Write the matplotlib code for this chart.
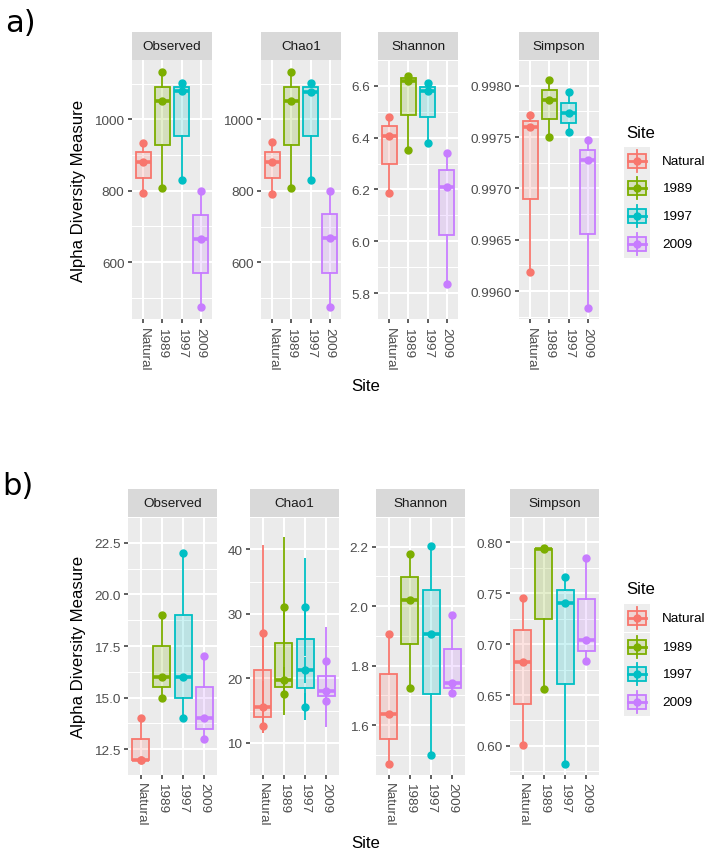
import matplotlib.pyplot as plt
import numpy as np
from matplotlib.colors import to_rgba
from matplotlib.patches import Rectangle

plt.rcParams['font.family'] = ['Liberation Sans', 'DejaVu Sans']

W, H = 709, 853

sites = ["Natural", "1989", "1997", "2009"]
site_colors = ["#F8766D", "#7CAE00", "#00BFC4", "#C77CFF"]
measures = ["Observed", "Chao1", "Shannon", "Simpson"]

# a) three samples per site
a_observed = [[793, 880, 935], [807, 1050, 1133], [830, 1078, 1102], [474, 666, 800]]
a_chao1 = [[792, 882, 937], [808, 1050, 1133], [831, 1077, 1103], [475, 668, 801]]
a_shannon = [[6.187, 6.407, 6.481], [6.352, 6.620, 6.640], [6.381, 6.582, 6.612], [5.835, 6.210, 6.340]]
a_simpson = [[0.99619, 0.99760, 0.99771], [0.99750, 0.99786, 0.99806],
             [0.99755, 0.99773, 0.99794], [0.99584, 0.99728, 0.99747]]

# b) three samples per site, Chao1 with its standard error
b_observed = [[12, 12, 14], [15, 16, 19], [14, 16, 22], [13, 14, 17]]
b_chao1 = [[12.55, 15.55, 27.0], [17.5, 19.8, 31.0], [15.6, 21.25, 31.0], [16.5, 18.0, 22.6]]
b_chao1_se = [[1.05, 4.05, 13.64], [3.2, 2.0, 10.83], [2.14, 2.0, 7.6], [4.06, 2.0, 5.4]]
b_shannon = [[1.469, 1.637, 1.908], [1.726, 2.020, 2.177], [1.500, 1.908, 2.203], [1.707, 1.743, 1.970]]
b_simpson = [[0.601, 0.682, 0.745], [0.656, 0.7935, 0.7945], [0.582, 0.740, 0.766], [0.683, 0.7045, 0.7845]]

# y tick labels per panel
a_ticks = [[600, 800, 1000], [600, 800, 1000], [5.8, 6.0, 6.2, 6.4, 6.6],
           [0.9960, 0.9965, 0.9970, 0.9975, 0.9980]]
a_fmts = ["{:.0f}", "{:.0f}", "{:.1f}", "{:.4f}"]
b_ticks = [[12.5, 15.0, 17.5, 20.0, 22.5], [10, 20, 30, 40], [1.6, 1.8, 2.0, 2.2],
           [0.60, 0.65, 0.70, 0.75, 0.80]]
b_fmts = ["{:.1f}", "{:.0f}", "{:.1f}", "{:.2f}"]


def px_axes(fig, x0, y0, x1, y1):
    return fig.add_axes([x0 / W, 1 - y1 / H, (x1 - x0) / W, (y1 - y0) / H])


def draw_panel(ax, values, ticks, fmt, title, se=None):
    x = np.arange(1, len(sites) + 1)
    ax.set_facecolor("#EBEBEB")
    for s in ax.spines.values():
        s.set_visible(False)

    vals = np.array(values, dtype=float)
    lo, hi = vals.min(), vals.max()
    if se is not None:
        err = np.array(se, dtype=float)
        lo, hi = min(lo, (vals - err).min()), max(hi, (vals + err).max())
    pad = (hi - lo) * 0.05
    ax.set_ylim(lo - pad, hi + pad)
    ax.set_xlim(0.4, len(sites) + 0.6)

    for i in range(len(sites)):
        c = site_colors[i]
        if se is not None:
            ax.vlines([x[i]] * 3, vals[i] - err[i], vals[i] + err[i], color=c, lw=1.3, zorder=2)
        ax.plot([x[i]] * len(vals[i]), vals[i], 'o', color=c, ms=5, zorder=3)
        ax.boxplot([vals[i]], positions=[x[i]], widths=0.8, whis=(0, 100), patch_artist=True,
                   showfliers=False, showcaps=False, manage_ticks=False, zorder=4,
                   boxprops=dict(facecolor=to_rgba(c, 0.2), edgecolor=c, lw=1.3),
                   whiskerprops=dict(color=c, lw=1.3),
                   medianprops=dict(color=c, lw=2.6))

    step = ticks[1] - ticks[0]
    minors = np.arange(ticks[0] - step / 2, ticks[-1] + step, step)
    ax.set_yticks(ticks)
    ax.set_yticklabels([fmt.format(t) for t in ticks])
    ax.set_yticks(minors, minor=True)
    ax.set_xticks(x)
    ax.set_xticklabels(sites, rotation=-90, va='top', ha='center')
    ax.grid(which='major', color='white', lw=1.5)
    ax.grid(which='minor', axis='y', color='white', lw=0.75)
    ax.set_axisbelow(True)
    ax.tick_params(which='major', length=3, width=1.1, color='#333333', labelcolor='#4D4D4D',
                   labelsize=9.7, pad=2.4)
    ax.tick_params(which='minor', length=0)

    # facet strip, 28 px tall
    strip_h = 28 / (ax.get_position().height * H)
    ax.add_patch(Rectangle((0, 1), 1, strip_h, transform=ax.transAxes, clip_on=False,
                           color='#D9D9D9', lw=0))
    ax.text(0.5, 1 + strip_h / 2, title, transform=ax.transAxes,
            ha='center', va='center', fontsize=9.7, color='#1A1A1A')


def draw_legend(leg, title_y, key_ys):
    leg.text(626, title_y, "Site", ha='left', va='center', fontsize=12.1, color='black')
    for site, c, ky in zip(sites, site_colors, key_ys):
        leg.add_patch(Rectangle((624, ky - 13.85), 26, 27.7, color='#EDEDED', lw=0))
        leg.plot([637, 637], [ky - 11, ky + 11], color=c, lw=1.3)
        leg.add_patch(Rectangle((628, ky - 7), 18, 14, facecolor=to_rgba(c, 0.2), edgecolor=c, lw=1.3))
        leg.plot([628, 646], [ky, ky], color=c, lw=2.0)
        leg.plot([637], [ky], 'o', color=c, ms=5)
        leg.text(662, ky, site, ha='left', va='center', fontsize=9.7, color='black')


fig = plt.figure(figsize=(W / 100, H / 100), dpi=100)

leg = fig.add_axes([0, 0, 1, 1])
leg.set_xlim(0, W)
leg.set_ylim(H, 0)
leg.set_axis_off()

row_a = [a_observed, a_chao1, a_shannon, a_simpson]
row_b = [b_observed, b_chao1, b_shannon, b_simpson]
a_x = [(132, 212), (261, 341), (378, 458), (519, 599)]
b_x = [(128, 217), (250, 339), (376, 465), (510, 599)]

for i, m in enumerate(measures):
    ax = px_axes(fig, a_x[i][0], 61, a_x[i][1], 320)
    draw_panel(ax, row_a[i], a_ticks[i], a_fmts[i], m)
    ax = px_axes(fig, b_x[i][0], 518, b_x[i][1], 776)
    draw_panel(ax, row_b[i], b_ticks[i], b_fmts[i], m, se=b_chao1_se if m == "Chao1" else None)

fig.text(5 / W, 1 - 32 / H, "a)", fontsize=22, ha='left', va='baseline', family='DejaVu Sans')
fig.text(2 / W, 1 - 495 / H, "b)", fontsize=22, ha='left', va='baseline', family='DejaVu Sans')

for yc in (191, 647):
    fig.text(78 / W, 1 - yc / H, "Alpha Diversity Measure", rotation=90, ha='center', va='center',
             fontsize=12.1)
for yc in (387, 844):
    fig.text(366 / W, 1 - yc / H, "Site", ha='center', va='center', fontsize=12.1)

draw_legend(leg, 133, [161.7, 189.3, 216.7, 245])
draw_legend(leg, 590, [619.3, 647.7, 675, 702.7])

fig.savefig("out.png", dpi=100)
